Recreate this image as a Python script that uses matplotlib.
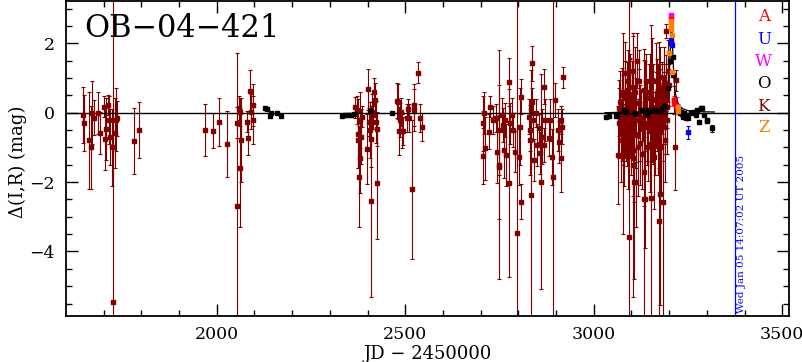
import matplotlib.pyplot as plt
import numpy as np

# K (dark red) points: JD-2450000, delta mag, error
k_jd = [1645, 1647, 1662, 1665, 1669, 1674, 1684, 1689, 1700, 1704, 1707, 1711, 1714, 1716,
        1722, 1724, 1729, 1732, 1735, 1780, 1793,
        1970, 1989, 2006, 2026, 2054, 2054, 2059, 2061, 2062, 2064, 2079, 2083, 2088, 2092,
        2095, 2097,
        2367, 2371, 2374, 2375, 2377, 2380, 2381, 2383, 2384, 2398, 2402, 2404, 2407, 2409,
        2409, 2411, 2415, 2418, 2420, 2422, 2424, 2425,
        2478, 2482, 2484, 2486, 2489, 2491, 2495, 2504, 2507, 2510, 2519, 2522, 2524, 2533,
        2540, 2544,
        2706, 2706, 2710, 2712, 2721, 2726, 2734, 2742, 2743, 2748, 2750, 2750, 2757, 2759,
        2761, 2765, 2768, 2774, 2776, 2779, 2783, 2787, 2792, 2796, 2801, 2805, 2807, 2807,
        2827, 2830, 2832, 2834, 2836, 2836, 2839, 2841, 2848, 2850, 2854, 2858, 2860, 2863,
        2867, 2869, 2872, 2880, 2885, 2890, 2892, 2898, 2904, 2907, 2912, 2914, 2916, 2919,
        3064, 3066, 3075, 3078, 3078, 3082, 3084, 3087, 3089, 3093, 3093, 3096, 3097, 3102,
        3105, 3105, 3106, 3108, 3111, 3113, 3115, 3119, 3122, 3126, 3131, 3133, 3133, 3133,
        3135, 3140, 3143, 3146, 3151, 3152, 3155, 3158, 3160, 3164, 3167, 3168, 3170, 3173,
        3173, 3175, 3177, 3179, 3182, 3185, 3186, 3188, 3191, 3193, 3195, 3212, 3215, 3217,
        3068, 3070, 3072, 3074, 3077, 3080, 3083, 3086, 3090, 3092, 3095, 3099, 3101, 3103,
        3109, 3112, 3117, 3121, 3124, 3128, 3137, 3139, 3142, 3148, 3149, 3154, 3157, 3162,
        3166, 3171, 3174, 3176, 3178, 3181, 3183, 3187, 3189, 3190, 3192, 3194, 3196, 3199]
k_mag = [-0.07, -0.29, -0.8, -1.0, 0.0, -0.14, 0.0, -0.58, 0.17, -0.76, -0.47, 0.22, -0.21, -0.7,
         -1.0, -5.45, -0.59, -0.2, -0.16, -0.82, -0.5,
         -0.5, -0.52, -0.27, -0.9, -2.69, -0.29, 0.14, 0.03, -1.6, -0.79, -0.26, -0.73, 0.63, 0.03,
         -0.21, 0.22,
         0.16, 0.08, -0.79, -0.6, -1.84, -0.21, -1.31, -0.69, -0.11, -1.05, 0.67, -0.26, -0.5, -2.55,
         -0.77, 0.03, -0.07, 0.6, 0.37, -0.26, -0.47, -2.03,
         0.35, 0.32, -0.53, -0.21, 0.03, -0.53, -0.53, -0.16, 0.1, -0.16, -2.21, 0.08, 0.22, 1.15,
         -0.16, -0.42,
         -0.31, -1.25, 0.0, -1.03, -0.55, 0.17, -0.21, -0.16, -1.12, -1.56, -0.5, -1.5, -0.07, -0.35,
         -1.07, -0.21, -1.22, -2.03, 0.89, -0.31, -0.07, -0.5, -1.12, -3.47, -1.27, -0.4, 0.46, -2.56,
         -0.11, -0.5, -0.79, -2.37, 1.42, 0.32, -0.21, -1.36, 0.0, -0.93, -0.45, -1.17, -1.99, -0.69,
         -0.93, 0.75, -0.21, -0.74, -0.21, -1.27, -1.84, 0.37, -0.5, -0.84, -0.21, -1.3, -0.4, 1.02,
         -1.22, 0.13, -0.59, 0.5, -1.2, 1.14, 0.41, 0.65, -0.55, -3.59, 0.08, 0.75, 0.37, -0.4,
         1.2, -1.5, -1.07, -2.0, -1.99, -0.21, 1.5, 0.27, -0.88, 0.08, -0.11, 0.65, -2.49, -1.7,
         -2.5, -0.4, -0.98, 0.41, -2.47, -0.21, 0.94, -0.59, -1.27, 0.08, -0.21, 0.56, -0.79, -3.12,
         1.04, 0.37, -2.35, -0.11, 0.75, -2.56, 0.37, -0.4, 0.85, 2.36, 0.17, 0.37, -0.98, 0.94,
         -0.3, 0.3, -0.8, 0.6, -0.2, -1.0, 0.1, -0.4, 0.9, -0.9, 0.2, -0.6, 0.5, -1.3,
         0.6, -0.6, -1.0, 0.9, -0.3, -1.2, 0.2, 0.9, -0.3, -0.9, 0.6, -0.1, 0.4, -0.6,
         0.9, 0.2, -0.5, 0.7, -1.0, 0.4, -0.3, 1.0, 0.1, -0.8, 0.6, -0.2, 1.2, 0.8]
k_err = [0.8, 0.8, 1.4, 1.2, 0.9, 0.5, 0.6, 0.6, 0.3, 0.9, 0.9, 0.3, 0.7, 0.8,
         1.1, 9.0, 1.0, 0.9, 0.5, 0.95, 0.8,
         0.75, 0.5, 0.7, 0.95, 4.4, 0.45, 0.35, 0.4, 1.7, 1.2, 0.3, 0.5, 0.6, 0.5,
         0.7, 0.6,
         0.3, 0.4, 0.8, 1.0, 1.45, 0.8, 1.0, 0.8, 0.3, 1.0, 0.6, 0.4, 0.8, 2.75,
         0.8, 0.5, 0.4, 0.4, 0.5, 0.6, 0.5, 1.6,
         0.5, 0.5, 0.7, 0.5, 0.4, 0.5, 0.4, 0.4, 0.3, 0.4, 2.0, 0.6, 0.6, 0.3,
         0.4, 0.4,
         0.8, 0.8, 0.6, 0.9, 0.5, 0.3, 0.4, 0.4, 0.9, 1.5, 1.3, 3.3, 0.5, 0.5,
         0.8, 0.5, 0.9, 2.7, 0.7, 0.6, 0.5, 0.5, 0.6, 7.0, 0.8, 1.1, 0.5, 0.5,
         0.5, 0.6, 1.0, 3.6, 0.5, 0.4, 0.6, 0.6, 0.4, 0.6, 0.4, 0.6, 3.1, 0.8,
         0.5, 0.5, 0.6, 0.5, 0.6, 0.8, 5.1, 0.5, 0.6, 0.6, 0.4, 1.0, 0.5, 0.3,
         1.4, 0.8, 0.8, 1.8, 2.3, 0.9, 0.8, 0.8, 1.0, 7.0, 1.0, 0.8, 1.2, 0.9,
         1.0, 3.8, 1.5, 2.8, 1.3, 1.2, 0.8, 1.0, 1.2, 0.6, 0.7, 1.2, 4.0, 1.0,
         1.4, 1.0, 1.0, 1.0, 5.0, 1.2, 1.2, 0.9, 1.5, 1.1, 0.9, 1.0, 1.0, 3.5,
         1.0, 0.9, 3.2, 0.8, 0.7, 3.5, 0.8, 0.8, 0.8, 0.2, 0.6, 0.4, 1.25, 0.3,
         1.0, 0.9, 1.2, 0.7, 1.3, 1.1, 1.4, 1.0, 0.9, 1.3, 1.5, 1.2, 1.0, 1.1,
         1.3, 1.0, 1.4, 0.9, 1.1, 1.0, 1.3, 0.8, 1.2, 1.4, 1.1, 1.3, 1.0, 1.2,
         1.1, 1.2, 1.1, 1.2, 1.3, 1.0, 1.1, 0.9, 1.0, 1.2, 0.8, 1.0, 0.9, 0.6]

# O (black) points
o_jd = [2128, 2134, 2141, 2145, 2160, 2170,
        2333, 2340, 2347, 2356, 2365, 2407, 2464,
        3032, 3040, 3058, 3062, 3080, 3085, 3110, 3128, 3140, 3145, 3160, 3170, 3180, 3188,
        3197, 3202, 3204, 3209, 3211,
        3225, 3228, 3232, 3234, 3236, 3239, 3241, 3244, 3246, 3250, 3257, 3264, 3270, 3275, 3279,
        3284, 3288, 3292, 3300, 3301, 3315]
o_mag = [0.13, 0.1, -0.1, 0.0, 0.0, -0.1,
         -0.09, -0.07, -0.07, -0.07, -0.05, 0.06, 0.0,
         -0.12, -0.1, -0.1, -0.05, 0.08, 0.02, -0.05, 0.08, -0.07, 0.08, 0.08, 0.05, 0.1, 0.2,
         0.7, 1.5, 2.0, 1.6, 1.1,
         0.1, 0.0, 0.03, -0.05, -0.12, -0.02, -0.1, -0.15, -0.07, -0.16, -0.02, 0.03, -0.07, 0.08, -0.26,
         0.13, 0.13, -0.07, -0.21, -0.23, -0.45]
o_err = [0.03] * (len(o_jd) - 1) + [0.1]

# U (blue), W (magenta), A (red), Z (orange)
u_jd = [3206, 3207, 3250]
u_mag = [2.1, 1.95, -0.57]
u_err = [0.05, 0.05, 0.2]
w_jd = [3205, 3206, 3221]
w_mag = [2.82, 2.78, 0.2]
w_err = [0.05, 0.05, 0.25]
a_jd = [3205, 3212, 3214]
a_mag = [2.7, 0.37, 0.28]
a_err = [0.05, 0.12, 0.1]
z_jd = [3205, 3205.5, 3206, 3206.5, 3200, 3208, 3223, 3224]
z_mag = [2.65, 2.5, 2.4, 2.25, 1.72, 1.17, 0.17, 0.05]
z_err = [0.05, 0.05, 0.05, 0.05, 0.05, 0.05, 0.08, 0.08]

# model curve
model_jd = [3030, 3100, 3150, 3170, 3180, 3188, 3194, 3198, 3201, 3203, 3204.5, 3206,
            3207.5, 3209, 3211, 3213, 3216, 3220, 3226, 3235, 3250, 3280, 3320]
model_mag = [0.0, 0.02, 0.05, 0.09, 0.15, 0.27, 0.5, 0.85, 1.3, 1.8, 2.3, 2.75,
             2.4, 1.9, 1.4, 0.95, 0.6, 0.38, 0.22, 0.12, 0.06, 0.03, 0.02]

legend_letters = ['A', 'U', 'W', 'O', 'K', 'Z']
legend_colors = ['red', 'blue', 'magenta', 'black', '#800000', '#ff8000']

plt.rcParams['font.family'] = 'DejaVu Serif'

fig = plt.figure(figsize=(8.03, 3.62), dpi=100)
ax = fig.add_axes([66 / 803, 1 - 316 / 362, 723 / 803, 315 / 362])

kw = dict(fmt='s', ms=2.8, elinewidth=0.8, capsize=1.6, capthick=0.8, lw=0)
ax.errorbar(k_jd, k_mag, yerr=k_err, color='#800000', **kw)
ax.errorbar(o_jd, o_mag, yerr=o_err, color='black', **kw)
ax.errorbar(u_jd, u_mag, yerr=u_err, color='blue', **kw)
ax.errorbar(w_jd, w_mag, yerr=w_err, color='magenta', **kw)
ax.errorbar(a_jd, a_mag, yerr=a_err, color='red', **kw)
ax.errorbar(z_jd, z_mag, yerr=z_err, color='#ff8000', **kw)

ax.plot(model_jd, model_mag, color='black', lw=0.9)
ax.axhline(0, color='black', lw=1.0)
ax.axvline(3375, color='blue', lw=0.9)

ax.text(3380, -5.78, "Wed Jan 05 14:07:02 UT 2005", rotation=90, color='blue',
        fontsize=7.5, ha='left', va='bottom')
ax.text(1649, 2.18, "OB\u221204\u2212421", fontsize=22, ha='left', va='baseline')

ys = [2.76, 2.12, 1.49, 0.85, 0.19, -0.44]
for lab, c, y in zip(legend_letters, legend_colors, ys):
    ax.text(3451, y, lab, color=c, fontsize=12, ha='center', va='center')

ax.set_xlim(1600, 3518)
ax.set_ylim(-5.86, 3.22)
ax.set_xticks([2000, 2500, 3000, 3500])
ax.set_xticks(np.arange(1700, 3600, 100), minor=True)
ax.set_yticks([-4, -2, 0, 2])
ax.set_yticks(np.arange(-5.5, 3.5, 0.5), minor=True)
ax.tick_params(which='both', direction='in', top=True, right=True, width=1.0, labelsize=12.5)
ax.tick_params(which='major', length=8.5)
ax.tick_params(which='minor', length=4.3)
ax.tick_params(axis='x', pad=7)
ax.tick_params(axis='y', pad=8)
for s in ax.spines.values():
    s.set_linewidth(1.3)

fig.text(18 / 803, 1 - 162 / 362, "\u0394(I,R) (mag)", rotation=90, fontsize=13,
         ha='center', va='center')
fig.text(428 / 803, 1 - 354 / 362, "JD \u2212 2450000", fontsize=13, ha='center', va='center')

fig.savefig('out.png', dpi=100)
